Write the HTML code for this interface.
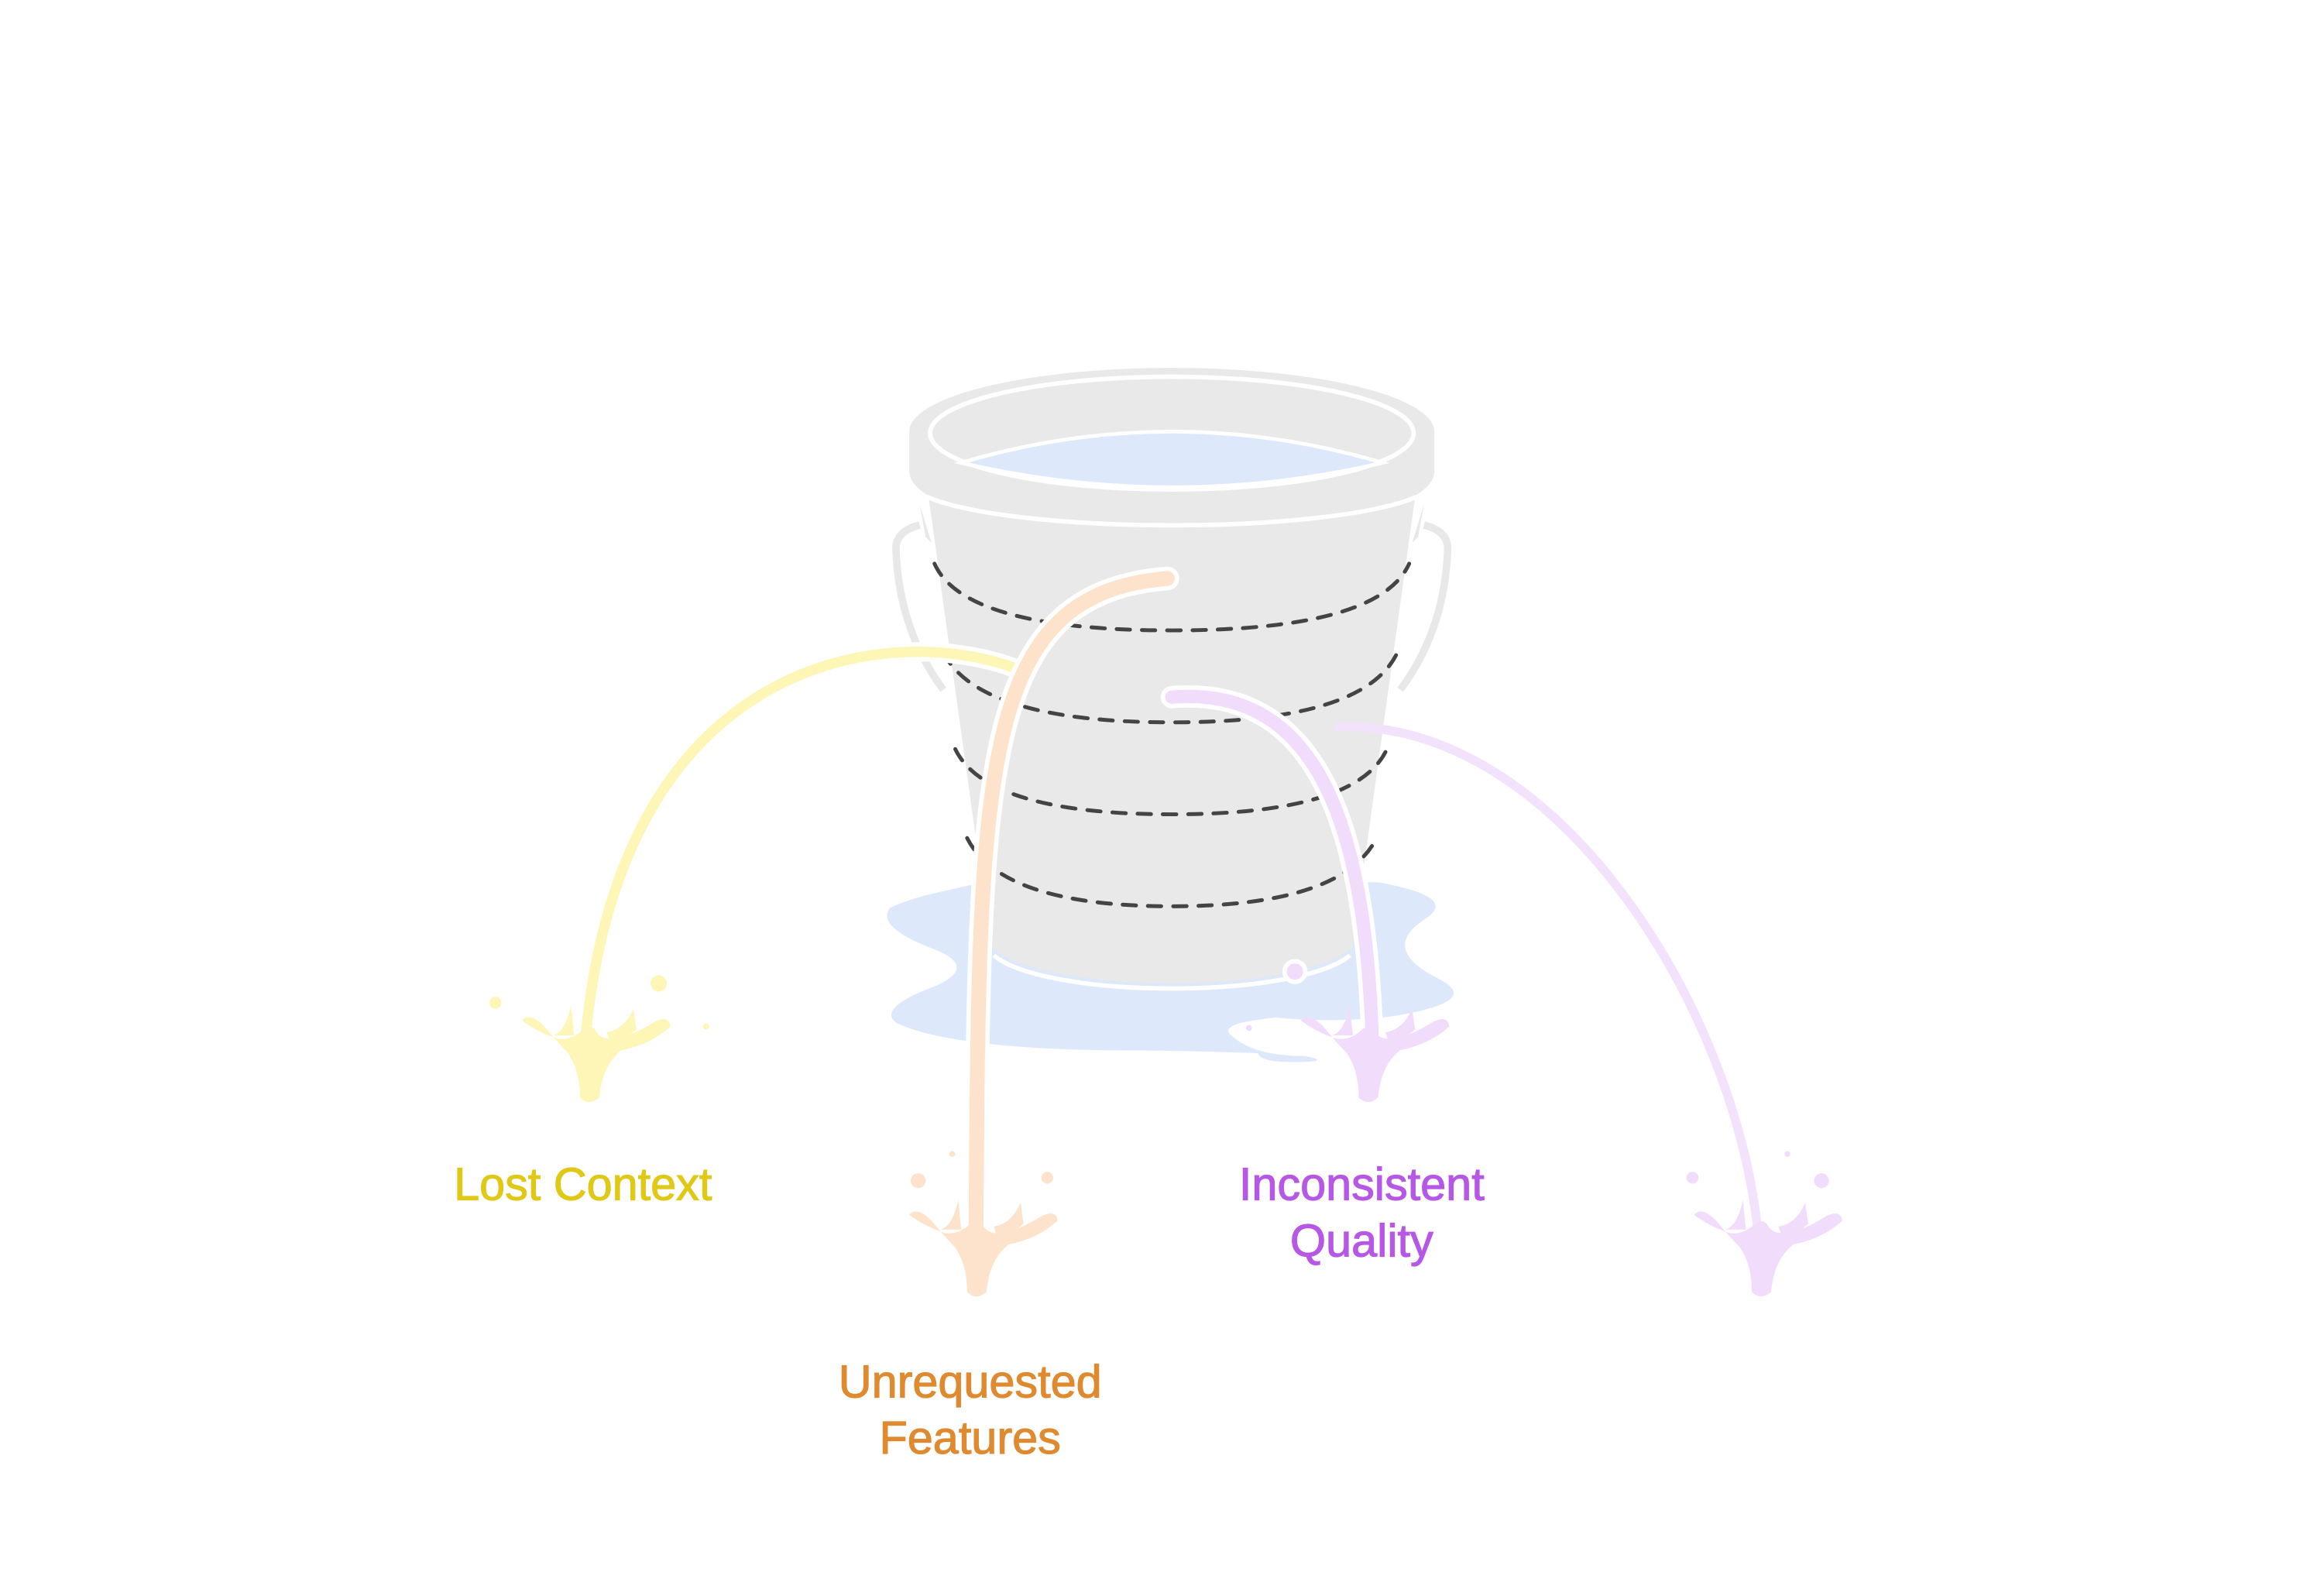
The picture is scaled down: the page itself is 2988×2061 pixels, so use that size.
<!DOCTYPE html>
<html><head><meta charset="utf-8"><style>
html,body{margin:0;padding:0;background:#fff;}
svg{display:block;}
text{font-family:"Liberation Sans",sans-serif;font-weight:normal;font-size:31px;text-anchor:middle;stroke-width:0.6px;}
</style></head><body>
<svg width="2988" height="2061" viewBox="0 0 1560 1076" preserveAspectRatio="none" xmlns="http://www.w3.org/2000/svg">
<defs>
<g id="splash">
<path d="M-45,-12 Q-40,-18 -30,-8 Q-20,4 -14,10 Q-6,22 -6,40 Q0,46 7,40 Q9,18 22,8 Q42,4 55,-8 Q54,-16 44,-11 Q30,-2 18,0 Q8,2 4,-6 Q0,-10 -6,-4 Q-14,2 -22,0 Q-34,-4 -45,-12 Z"/>
<path d="M-24,-2 Q-16,-4 -12,-22 L-10,-2 Z"/>
<path d="M12,-4 Q24,-6 30,-20 L32,-6 Q26,0 14,2 Z"/>
</g>
</defs>
<!-- puddle -->
<path d="M640,600 Q700,585 760,590 L930,595 Q985,605 960,620 Q930,640 970,660 Q1000,675 940,685 Q900,690 860,686 Q820,690 830,698 Q845,712 880,712 Q900,716 870,716 Q850,716 848,710 Q790,708 740,708 Q640,706 605,690 Q590,680 630,665 Q660,652 630,640 Q590,625 600,612 Q615,605 640,600 Z" fill="#dde8fb"/>
<!-- handles -->
<path d="M620,354 Q604,358 604,370 Q606,425 636,465" fill="none" stroke="#e8e8e8" stroke-width="5"/>
<path d="M960,354 Q976,358 976,370 Q974,425 944,465" fill="none" stroke="#e8e8e8" stroke-width="5"/>
<path d="M620,340 L624,362 L628,366 Z M960,340 L956,362 L952,366 Z" fill="#e8e8e8"/>
<!-- body -->
<path d="M626,335 L954,335 L912,638 A125,32 0 0 1 668,638 Z" fill="#e9e9e9"/>
<path d="M670,644 A124,30 0 0 0 910,644" fill="none" stroke="#fff" stroke-width="3"/>
<!-- rim -->
<path d="M613,291 L613,318 A177,43 0 0 0 967,318 L967,291 Z" fill="#e9e9e9"/>
<ellipse cx="790" cy="291" rx="177" ry="43" fill="#e9e9e9"/>
<path d="M625,335 A177,30 0 0 0 955,335" fill="none" stroke="#fff" stroke-width="3"/>
<ellipse cx="790" cy="292" rx="163" ry="38" fill="#e9e9e9" stroke="#fff" stroke-width="3"/>
<path d="M648,312 Q790,270 932,312 Q790,345 648,312 Z" fill="#dde8fb" stroke="#fff" stroke-width="2.5"/>
<!-- dashed rings -->
<g fill="none" stroke="#444" stroke-width="2.6" stroke-dasharray="9,8" stroke-linecap="round">
<path d="M630,380 Q650,425 790,425 Q930,425 950,380"/>
<path d="M636,440 Q660,487 790,487 Q920,487 942,440"/>
<path d="M644,505 Q665,549 790,549 Q915,549 935,505"/>
<path d="M652,565 Q675,611 790,611 Q905,611 928,565"/>
</g>
<!-- streams -->
<g fill="none" stroke-linecap="round">
<path d="M683,450 C600,420 420,440 395,697" stroke="#fff" stroke-width="13"/>
<path d="M683,450 C600,420 420,440 395,697" stroke="#fdf6b6" stroke-width="7"/>
<path d="M902,490 C1050,485 1170,680 1185,830" stroke="#f3e2fb" stroke-width="6"/>
<path d="M787,390 C660,400 660,520 658,828" stroke="#fff" stroke-width="16"/>
<path d="M787,390 C660,400 660,520 658,828" stroke="#fde3cc" stroke-width="10"/>
<path d="M790,470 C890,462 920,560 925,697" stroke="#fff" stroke-width="15"/>
<path d="M790,470 C890,462 920,560 925,697" stroke="#f2dcfb" stroke-width="9"/>
</g>
<circle cx="873" cy="655" r="7" fill="#f2dcfb" stroke="#fff" stroke-width="3"/>
<!-- splashes -->
<use href="#splash" x="397" y="700" fill="#fdf6b6"/>
<use href="#splash" x="658" y="831" fill="#fde3cc"/>
<use href="#splash" x="922" y="700" fill="#f2dcfb"/>
<use href="#splash" x="1187" y="831" fill="#f2dcfb"/>
<g fill="#fdf6b6"><circle cx="334" cy="676" r="4"/><circle cx="444" cy="663" r="5.5"/><circle cx="476" cy="692" r="2"/></g>
<g fill="#fde3cc"><circle cx="619" cy="796" r="5"/><circle cx="642" cy="778" r="2"/><circle cx="706" cy="794" r="4"/></g>
<g fill="#f2dcfb"><circle cx="1141" cy="794" r="4"/><circle cx="1205" cy="778" r="2"/><circle cx="1228" cy="796" r="5"/><circle cx="842" cy="693" r="2"/></g>
<!-- labels -->
<text x="393" y="809" fill="#e0c816" stroke="#e0c816">Lost Context</text>
<text x="654" y="942" fill="#e08a30" stroke="#e08a30">Unrequested</text>
<text x="654" y="980" fill="#e08a30" stroke="#e08a30">Features</text>
<text x="918" y="809" fill="#b657e6" stroke="#b657e6">Inconsistent</text>
<text x="918" y="847" fill="#b657e6" stroke="#b657e6">Quality</text>
</svg>
</body></html>
